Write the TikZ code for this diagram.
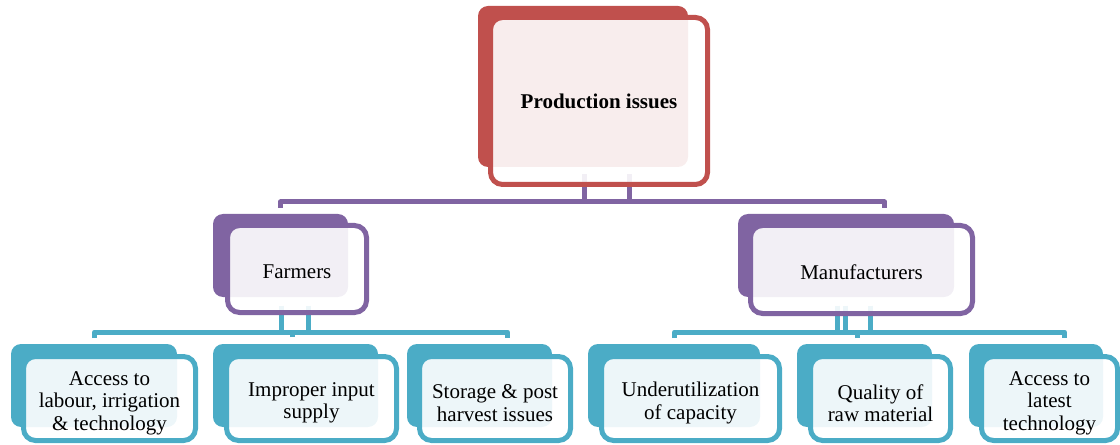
\documentclass[tikz,border=0pt]{standalone}
\usepackage{fontspec}
\setmainfont{Liberation Serif}
\usetikzlibrary{calc,backgrounds}
\definecolor{redA}{HTML}{C0504D}
\definecolor{purpleA}{HTML}{8064A2}
\definecolor{tealA}{HTML}{4BACC6}
\begin{document}
\begin{tikzpicture}[x=0.75pt,y=-0.75pt,
  plate/.style={fill=#1, draw=none, rounded corners=7.5pt, inner sep=0pt},
  card/.style={draw=#1, line width=3.75pt, fill=white, fill opacity=0.9,
    rounded corners=9pt, inner sep=0pt},
  txt/.style={inner sep=0pt, align=center,
    font=\fontsize{15.75pt}{16.9pt}\selectfont},
  link/.style={draw=#1, line width=3.75pt, line join=round}]
\useasboundingbox (0,0) rectangle (1120,445);

% back plates
\node[plate=redA, minimum width=210*0.75pt, minimum height=161*0.75pt] (topB) at (583,86.5) {};
\node[plate=purpleA, minimum width=135*0.75pt, minimum height=83*0.75pt] (farmB) at (280.5,255.5) {};
\node[plate=purpleA, minimum width=216*0.75pt, minimum height=83*0.75pt] (manuB) at (846,255.5) {};
\node[plate=tealA, minimum width=166*0.75pt, minimum height=83*0.75pt] (aB) at (94,385.5) {};
\node[plate=tealA, minimum width=165*0.75pt, minimum height=83*0.75pt] (bB) at (295.5,385.5) {};
\node[plate=tealA, minimum width=145*0.75pt, minimum height=83*0.75pt] (cB) at (479.5,385.5) {};
\node[plate=tealA, minimum width=172*0.75pt, minimum height=83*0.75pt] (dB) at (674,385.5) {};
\node[plate=tealA, minimum width=135*0.75pt, minimum height=83*0.75pt] (eB) at (864.5,385.5) {};
\node[plate=tealA, minimum width=134*0.75pt, minimum height=83*0.75pt] (fB) at (1036,385.5) {};

% front cards
\node[card=redA, minimum width=217*0.75pt, minimum height=167*0.75pt] (top) at (599,101) {};
\node[card=purpleA, minimum width=139*0.75pt, minimum height=87*0.75pt] (farm) at (297,269) {};
\node[card=purpleA, minimum width=222*0.75pt, minimum height=88*0.75pt] (manu) at (861.5,269.5) {};
\node[card=tealA, minimum width=172*0.75pt, minimum height=84*0.75pt] (a) at (109.5,398.5) {};
\node[card=tealA, minimum width=170*0.75pt, minimum height=84*0.75pt] (b) at (311.5,398.5) {};
\node[card=tealA, minimum width=151*0.75pt, minimum height=84*0.75pt] (c) at (495,398.5) {};
\node[card=tealA, minimum width=178*0.75pt, minimum height=84*0.75pt] (d) at (690.5,398.5) {};
\node[card=tealA, minimum width=140*0.75pt, minimum height=84*0.75pt] (e) at (880.5,398.5) {};
\node[card=tealA, minimum width=136*0.75pt, minimum height=84*0.75pt] (f) at (1049.5,398.5) {};

% card texts
\node[txt] (topT) at (top) {\textbf{Production issues}};
\node[txt] (farmT) at ($(farm)+(0,3)$) {Farmers};
\node[txt] (manuT) at ($(manu)+(0,3)$) {Manufacturers};
\node[txt] (aT) at ($(a)+(0,4.5)$) {Access to\\labour, irrigation\\\& technology};
\node[txt] (bT) at ($(b)+(0,4.5)$) {Improper input\\supply};
\node[txt] (cT) at ($(c)+(0,4.5)$) {Storage \& post\\harvest issues};
\node[txt] (dT) at ($(d)+(0,4.5)$) {Underutilization\\of capacity};
\node[txt] (eT) at ($(e)+(0,4.5)$) {Quality of\\raw material};
\node[txt] (fT) at ($(f)+(0,4.5)$) {Access to\\latest\\technology};

% bus end points
\coordinate (busL) at (280.5,208);
\coordinate (busR) at (884.5,208);
\coordinate (farmL) at (94.5,338);
\coordinate (farmR) at (507.5,338);
\coordinate (farmM) at (292.5,337);
\coordinate (manuL) at (674.5,338);
\coordinate (manuR) at (1064.5,338);
\coordinate (manuM) at (857.5,338);

\begin{scope}[on background layer]
  % top level to second level
  \draw[link=purpleA] (busL) -- ++(0,-6) -| (busR);
  \draw[link=purpleA] ($(top.south)+(-15,-12.5)$) -- ++(0,30);
  \draw[link=purpleA] ($(top.south)+(30,-12.5)$) -- ++(0,30);
  % farmers to their issues
  \draw[link=tealA] (farmL) -- ++(0,-6) -| (farmR);
  \draw[link=tealA] (farmM) -- ++(0,-5);
  \draw[link=tealA] ($(farm.south)+(-16,-9.5)$) -- ++(0,29);
  \draw[link=tealA] ($(farm.south)+(11.5,-9.5)$) -- ++(0,29);
  % manufacturers to their issues
  \draw[link=tealA] (manuL) -- ++(0,-6) -| (manuR);
  \draw[link=tealA] (manuM) -- ++(0,-6);
  \draw[link=tealA] ($(manu.south)+(-24.5,-10.5)$) -- ++(0,29);
  \draw[link=tealA] ($(manu.south)+(-16,-10.5)$) -- ++(0,29);
  \draw[link=tealA] ($(manu.south)+(9,-10.5)$) -- ++(0,29);
\end{scope}
\end{tikzpicture}
\end{document}
